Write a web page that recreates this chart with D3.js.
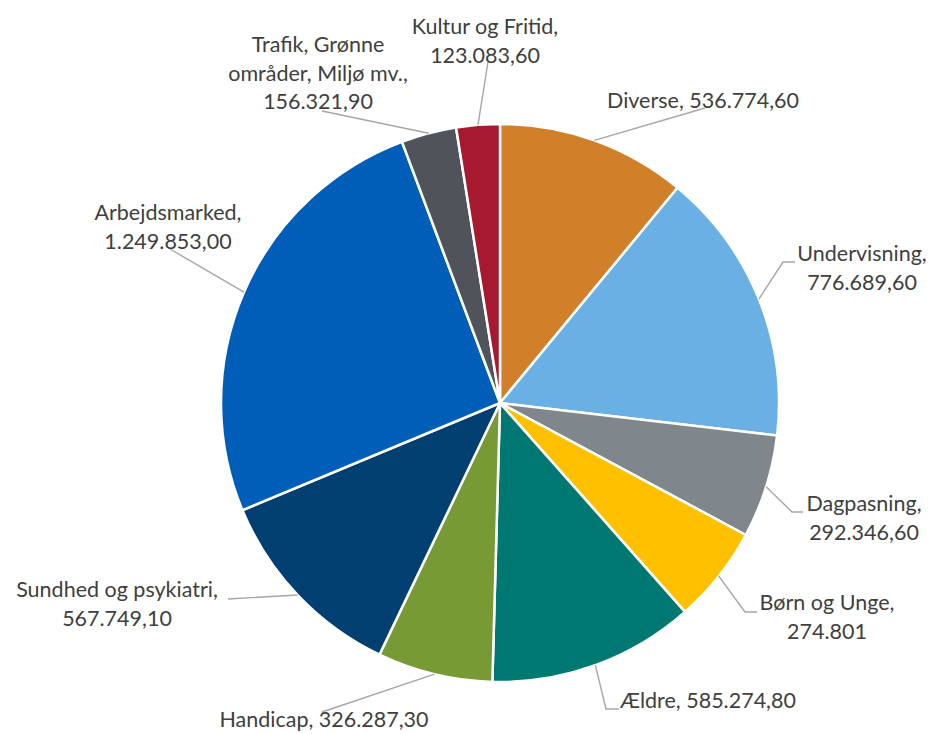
<!DOCTYPE html>
<html>
<head>
<meta charset="utf-8">
<script src="https://cdn.jsdelivr.net/npm/d3@7/dist/d3.min.js"></script>
<style>
html,body{margin:0;padding:0;background:#fff;}
svg{display:block;}
</style>
</head>
<body>
<svg id="chart" width="929" height="734"></svg>
<script>
const categories = ["Diverse","Undervisning","Dagpasning","Børn og Unge","Ældre","Handicap","Sundhed og psykiatri","Arbejdsmarked","Trafik, Grønne områder, Miljø mv.","Kultur og Fritid"];
const values = [536774.60, 776689.60, 292346.60, 274801, 585274.80, 326287.30, 567749.10, 1249853.00, 156321.90, 123083.60];
const valueLabels = ["536.774,60","776.689,60","292.346,60","274.801","585.274,80","326.287,30","567.749,10","1.249.853,00","156.321,90","123.083,60"];
const colors = ["#D17F29","#6BB0E4","#7F868C","#FFC000","#007872","#789A35","#003F70","#005EB8","#50545A","#A6192E"];

// layout of label text lines (not data)
const labelLines = [
  ["Diverse, 536.774,60"],
  ["Undervisning,","776.689,60"],
  ["Dagpasning,","292.346,60"],
  ["Børn og Unge,","274.801"],
  ["Ældre, 585.274,80"],
  ["Handicap, 326.287,30"],
  ["Sundhed og psykiatri,","567.749,10"],
  ["Arbejdsmarked,","1.249.853,00"],
  ["Trafik, Grønne","områder, Miljø mv.,","156.321,90"],
  ["Kultur og Fritid,","123.083,60"]
];
const labelPos = [[703,108],[862,261],[864,511],[827,610],[708,708],[324,727],[117,597],[168,220],[318,52],[485,34]];
const leaderPts = [
  [[705,108]],
  [[783,262],[795,262]],
  [[792,512],[803,512]],
  [[745,612],[757,612]],
  [[606,709],[619,709]],
  [[322,712]],
  [[228,599]],
  [[170,249]],
  [[322,111]],
  [[488,62]]
];

const cx = 500, cy = 403, R = 279;
const svg = d3.select("#chart");
const g = svg.append("g").attr("transform", `translate(${cx},${cy})`);

const pie = d3.pie().sort(null).value(d => d)(values);
const arc = d3.arc().innerRadius(0).outerRadius(R);

g.selectAll("path.slice").data(pie).enter().append("path")
  .attr("class","slice")
  .attr("d", arc)
  .attr("fill", (d,i) => colors[i])
  .attr("stroke", "#fff")
  .attr("stroke-width", 2.5)
  .attr("stroke-linejoin","round");

const line = d3.line();
svg.selectAll("path.leader").data(pie).enter().append("path")
  .attr("class","leader")
  .attr("d", (d,i) => {
    const a = (d.startAngle + d.endAngle)/2;
    const p0 = [cx + R*Math.sin(a), cy - R*Math.cos(a)];
    return line([p0, ...leaderPts[i]]);
  })
  .attr("fill","none")
  .attr("stroke","#A6A6A6")
  .attr("stroke-width",1.4);

const lh = 28.7;
labelLines.forEach((lines, i) => {
  const t = svg.append("text")
    .attr("x", labelPos[i][0]).attr("y", labelPos[i][1])
    .attr("text-anchor","middle")
    .attr("font-family","Lato, 'Open Sans', sans-serif")
    .attr("font-size","21.5px")
    .attr("fill","#404040");
  lines.forEach((s, k) => {
    t.append("tspan").attr("x", labelPos[i][0]).attr("dy", k === 0 ? 0 : lh).text(s);
  });
});
</script>
</body>
</html>
